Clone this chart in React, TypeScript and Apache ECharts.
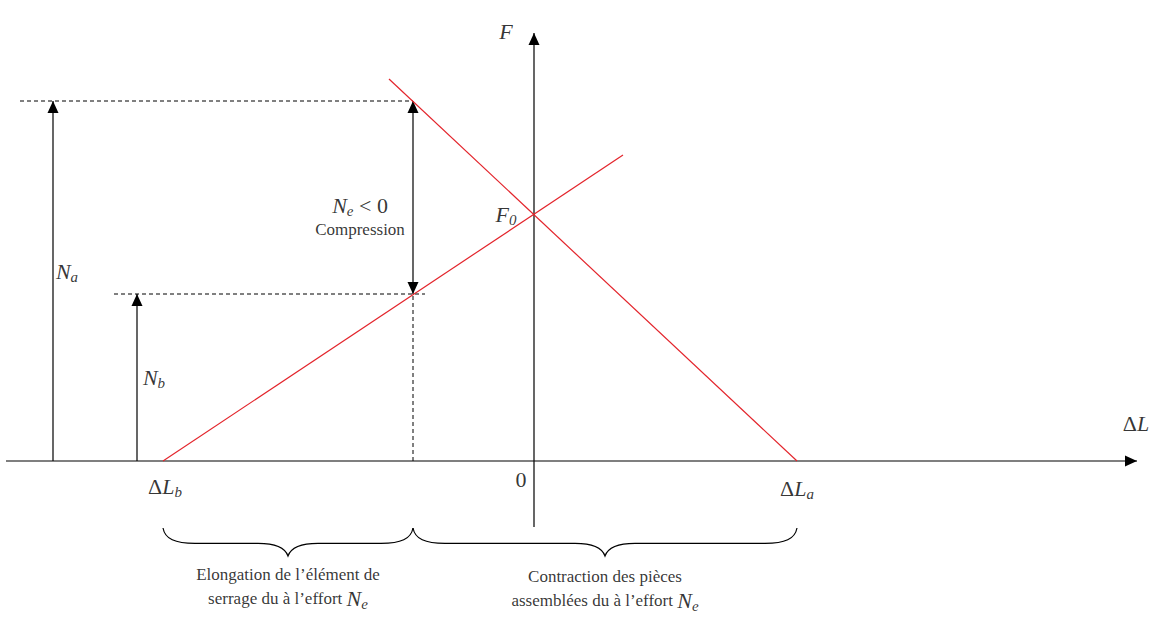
import React, { useEffect, useRef } from "react";
import * as echarts from "echarts";

const W = 1163;
const H = 618;

// axis domains (diagram units)
const xDomain = [-5.34, 6.29];
const yDomain = [-1.57, 4.61];

// key values
const dLb = -3.71;
const dLa = 2.63;
const F0 = 2.47;
const xE = -1.21;
const Na = 3.6;
const Nb = 1.67;

// characteristic lines
const boltLine = [[dLb, 0], [0.89, 3.06]];
const partsLine = [[-1.45, 3.82], [dLa, 0]];

// arrows: x1, y1, x2, y2, heads (1 = end, 2 = both)
const arrowSegs = [
  [-5.28, 0, 6.03, 0, 1],
  [0, -0.66, 0, 4.28, 1],
  [-4.81, 0, -4.81, Na, 1],
  [-3.97, 0, -3.97, Nb, 1],
  [xE, Nb, xE, Na, 2],
];

// dashed guides: x1, y1, x2, y2
const dashedSegs = [
  [-5.14, Na, xE, Na],
  [-4.2, Nb, -1.09, Nb],
  [xE, 0, xE, Nb],
];

// braces: x1, x2, yTop, yTip
const braces = [
  [dLb, xE, -0.67, -0.95],
  [xE, dLa, -0.67, -0.95],
];

// labels: position and rich text
const labelPos = [
  [-0.28, 4.3],
  [6.02, 0.38],
  [-4.67, 1.9],
  [-3.8, 0.84],
  [-0.28, 2.47],
  [-1.74, 2.45],
  [-3.69, -0.25],
  [-0.13, -0.18],
  [2.63, -0.27],
  [-2.46, -1.26],
  [0.71, -1.28],
];
const labelText = [
  "{i|F}",
  "{u|Δ}{i|L}",
  "{i|N}{s|a}",
  "{i|N}{s|b}",
  "{i|F}{s|0}",
  "{i|N}{s|e}{u| < 0}\n{t|Compression}",
  "{u|Δ}{i|L}{s|b}",
  "{u|0}",
  "{u|Δ}{i|L}{s|a}",
  "{t|Elongation de l’élément de}\n{t|serrage du à l’effort }{i|N}{s|e}",
  "{t|Contraction des pièces}\n{t|assemblées du à l’effort }{i|N}{s|e}",
];

const FONT = "Liberation Serif";
const RED = "#e3242b";
const HL = 12;
const HW = 5.5;

function arrowRender(params: any, api: any) {
  const a = api.coord([api.value(0), api.value(1)]);
  const b = api.coord([api.value(2), api.value(3)]);
  const both = api.value(4) === 2;
  const dx = b[0] - a[0];
  const dy = b[1] - a[1];
  const L = Math.hypot(dx, dy);
  const ux = dx / L;
  const uy = dy / L;
  const head = (tip: number[], sx: number, sy: number) => {
    const bx = tip[0] - sx * HL;
    const by = tip[1] - sy * HL;
    return {
      type: "polygon",
      shape: {
        points: [
          [tip[0], tip[1]],
          [bx - sy * HW, by + sx * HW],
          [bx + sy * HW, by - sx * HW],
        ],
      },
      style: { fill: "#000" },
    };
  };
  const children: any[] = [
    {
      type: "line",
      shape: { x1: a[0], y1: a[1], x2: b[0], y2: b[1] },
      style: { stroke: "#000", lineWidth: 1.2 },
    },
    head(b, ux, uy),
  ];
  if (both) children.push(head(a, -ux, -uy));
  return { type: "group", children };
}

function dashRender(params: any, api: any) {
  const a = api.coord([api.value(0), api.value(1)]);
  const b = api.coord([api.value(2), api.value(3)]);
  return {
    type: "line",
    shape: { x1: a[0], y1: a[1], x2: b[0], y2: b[1] },
    style: { stroke: "#000", lineWidth: 1, lineDash: [4, 3] },
  };
}

function braceRender(params: any, api: any) {
  const p1 = api.coord([api.value(0), api.value(2)]);
  const p2 = api.coord([api.value(1), api.value(2)]);
  const pt = api.coord([(api.value(0) + api.value(1)) / 2, api.value(3)]);
  const x1 = p1[0];
  const x2 = p2[0];
  const y0 = p1[1];
  const xm = pt[0];
  const yt = pt[1];
  const ym = y0 + (yt - y0) * 0.55;
  const d =
    `M${x1},${y0} C${x1 + 2},${y0 + 11} ${x1 + 12},${ym} ${x1 + 32},${ym} ` +
    `L${xm - 30},${ym} C${xm - 12},${ym} ${xm - 3},${ym + 4} ${xm},${yt} ` +
    `C${xm + 3},${ym + 4} ${xm + 12},${ym} ${xm + 30},${ym} ` +
    `L${x2 - 32},${ym} C${x2 - 12},${ym} ${x2 - 2},${y0 + 11} ${x2},${y0}`;
  return {
    type: "path",
    shape: { pathData: d },
    style: { stroke: "#000", fill: "none", lineWidth: 1.2 },
  };
}

const rich = {
  i: { fontFamily: FONT, fontStyle: "italic", fontSize: 22, lineHeight: 26, color: "#000" },
  u: { fontFamily: FONT, fontSize: 22, lineHeight: 26, color: "#000" },
  s: { fontFamily: FONT, fontStyle: "italic", fontSize: 15, lineHeight: 16, verticalAlign: "bottom", color: "#000" },
  t: { fontFamily: FONT, fontSize: 17, lineHeight: 22, color: "#000" },
};

export default function App() {
  const ref = useRef<HTMLDivElement>(null);
  useEffect(() => {
    const chart = echarts.init(ref.current!, null, { renderer: "svg" });
    chart.setOption({
      animation: false,
      backgroundColor: "#fff",
      textStyle: { fontFamily: FONT },
      grid: { left: 0, right: 0, top: 0, bottom: 0 },
      xAxis: { type: "value", min: xDomain[0], max: xDomain[1], show: false },
      yAxis: { type: "value", min: yDomain[0], max: yDomain[1], show: false },
      series: [
        {
          type: "line",
          data: boltLine,
          symbol: "none",
          lineStyle: { color: RED, width: 1.2 },
          silent: true,
        },
        {
          type: "line",
          data: partsLine,
          symbol: "none",
          lineStyle: { color: RED, width: 1.2 },
          silent: true,
        },
        {
          type: "custom",
          renderItem: dashRender,
          data: dashedSegs,
          encode: { x: [0, 2], y: [1, 3] },
          silent: true,
        },
        {
          type: "custom",
          renderItem: arrowRender,
          data: arrowSegs,
          encode: { x: [0, 2], y: [1, 3] },
          silent: true,
        },
        {
          type: "custom",
          renderItem: braceRender,
          data: braces,
          encode: { x: [0, 1], y: [2, 3] },
          silent: true,
        },
        {
          type: "scatter",
          symbolSize: 0,
          silent: true,
          data: labelPos.map((p, k) => ({
            value: p,
            label: {
              show: true,
              position: "inside",
              align: "center",
              verticalAlign: "middle",
              fontFamily: FONT,
              formatter: labelText[k],
              rich,
            },
          })),
        },
      ],
    });
    return () => chart.dispose();
  }, []);
  return (
    <div
      ref={ref}
      style={{ position: "fixed", left: 0, top: 0, width: W, height: H, background: "#fff" }}
    />
  );
}
